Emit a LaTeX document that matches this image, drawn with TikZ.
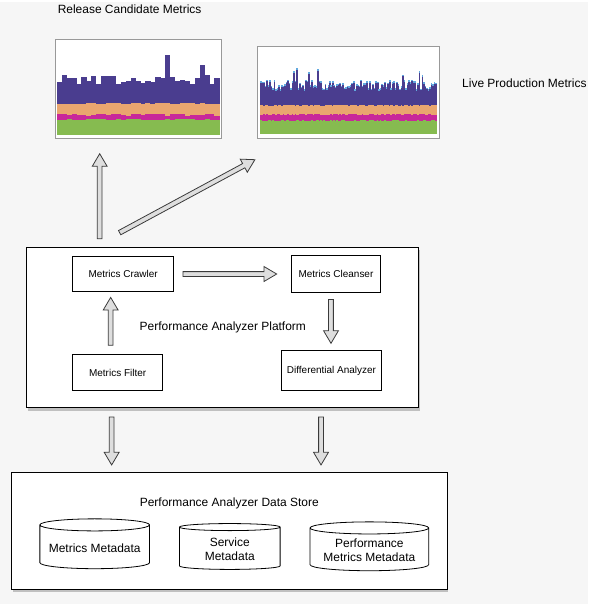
\documentclass[tikz,border=0pt]{standalone}
\usepackage{fontspec}
\setmainfont{Liberation Sans}
\usetikzlibrary{arrows.meta, positioning, shapes.geometric, calc, shadows}
\definecolor{pagray}{HTML}{F6F6F6}
\definecolor{chpurple}{HTML}{4A3D8F}
\definecolor{chorange}{HTML}{E9A66F}
\definecolor{chmagenta}{HTML}{C8289A}
\definecolor{chgreen}{HTML}{86BB50}
\definecolor{chblue}{HTML}{62A8DE}
\definecolor{arrowline}{HTML}{3A3A3A}

\begin{document}
\begin{tikzpicture}[
  x=0.75pt, y=-0.75pt,
  every node/.style={font=\fontsize{7.5}{9}\selectfont},
  comp/.style={rectangle, draw, line width=0.7pt, fill=white, align=center},
  group/.style={rectangle, draw, line width=0.7pt, fill=white, drop shadow={shadow xshift=0.6pt, shadow yshift=-2.2pt, opacity=0.45}},
  dbstore/.style={cylinder, shape border rotate=90, aspect=0.12, draw, line width=0.6pt, fill=white, align=center, font=\fontsize{9}{10.5}\selectfont},
  chart/.style={rectangle, draw=black!40, line width=0.5pt, fill=white},
  title/.style={font=\fontsize{9}{10.5}\selectfont},
  blockarrow/.style={draw=arrowline, fill=black!13, line width=0.6pt, line join=miter,
    to path={($(\tikztostart)!1.8pt!90:(\tikztotarget)$) -- ($(\tikztotarget)!9.67pt!-10.73:(\tikztostart)$)
      -- ($(\tikztotarget)!11.03pt!-30.52:(\tikztostart)$) -- (\tikztotarget)
      -- ($(\tikztotarget)!11.03pt!30.52:(\tikztostart)$) -- ($(\tikztotarget)!9.67pt!10.73:(\tikztostart)$)
      -- ($(\tikztostart)!1.8pt!-90:(\tikztotarget)$) -- cycle}},
]
\fill[pagray] (0,0) rectangle (590,604);

% metric charts
\node[chart, minimum width=125.25pt, minimum height=74.25pt] (rcchart) at (138.5,87.5) {};
\node[chart, minimum width=137.25pt, minimum height=69pt] (livechart) at (349.5,91) {};
\pgfmathsetseed{11}
\foreach \i in {0,...,32} {
  \pgfmathsetmacro\xa{57+4.94*\i}
  \pgfmathsetmacro\xb{\xa+5.2}
  \pgfmathsetmacro\ytop{\i==22 ? 53 : (\i==29 ? 63 : 73+11*rnd)}
  \pgfmathsetmacro\yo{101+2*rnd}
  \pgfmathsetmacro\ym{112+2.5*rnd}
  \pgfmathsetmacro\yg{117.5+1.5*rnd}
  \fill[chpurple] (\xa,\ytop) rectangle (\xb,\yo);
  \fill[chorange] (\xa,\yo) rectangle (\xb,\ym);
  \fill[chmagenta] (\xa,\ym) rectangle (\xb,\yg);
  \fill[chgreen] (\xa,\yg) rectangle (\xb,134);
}
\foreach \i in {0,...,117} {
  \pgfmathsetmacro\xa{261+1.5*\i}
  \pgfmathsetmacro\xb{\xa+1.7}
  \pgfmathsetmacro\ytop{rnd>0.93 ? 64+12*rnd : 78+10*rnd}
  \pgfmathsetmacro\yo{103+1.5*rnd}
  \pgfmathsetmacro\ym{112+2*rnd}
  \pgfmathsetmacro\yg{118.5+1.5*rnd}
  \fill[chblue] (\xa,\ytop) rectangle (\xb,\ytop+1.6);
  \fill[chpurple] (\xa,\ytop+1.6) rectangle (\xb,\yo);
  \fill[chorange] (\xa,\yo) rectangle (\xb,\ym);
  \fill[chmagenta] (\xa,\ym) rectangle (\xb,\yg);
  \fill[chgreen] (\xa,\yg) rectangle (\xb,133);
}
\node[title] (rclabel) at (130,7) {Release Candidate Metrics};
\node[title] (livelabel) at (526,82) {Live Production Metrics};

% platform
\node[group, minimum width=294.75pt, minimum height=120.75pt, font=\fontsize{9}{10.5}\selectfont] (plat) at (223.5,326.5) {Performance Analyzer Platform};
\node[comp, minimum width=75.75pt, minimum height=27pt] (crawler) at (123.5,273) {Metrics Crawler};
\node[comp, minimum width=67.5pt, minimum height=27.75pt] (cleanser) at (337,273) {Metrics Cleanser};
\node[comp, minimum width=67.5pt, minimum height=27pt] (filter) at (118,372) {Metrics Filter};
\node[comp, minimum width=75.75pt, minimum height=30pt] (diff) at (332.5,370) {Differential Analyzer};

% data store
\node[group, minimum width=327.75pt, minimum height=87.75pt] (store) at (230.5,530.5) {};
\node[title] (storetitle) at (230,503) {Performance Analyzer Data Store};
\node[dbstore, minimum width=82.5pt, minimum height=37.5pt] (mmeta) at (95,548) {Metrics Metadata};
\node[dbstore, minimum width=75.75pt, minimum height=34.5pt] (smeta) at (230.5,549) {Service\\Metadata};
\node[dbstore, minimum width=89.25pt, minimum height=36.75pt] (pmeta) at (370.5,550.5) {Performance\\Metrics Metadata};

% arrow ends
\coordinate (rcfrom) at ($(crawler.north)+(-23.5,-17)$);
\coordinate (rcto) at ($(rcchart.south)+(-38.5,15)$);
\coordinate (livefrom) at ($(crawler.north)+(-3.5,-23)$);
\coordinate (liveto) at ($(livechart.south west)+(-2,21)$);
\coordinate (crawlout) at ($(crawler.east)+(9,0)$);
\coordinate (cleanin) at ($(cleanser.west)+(-14,0)$);
\coordinate (filtout) at ($(filter.north)+(-7,-9)$);
\coordinate (crawlin) at ($(crawler.south)+(-12.5,5)$);
\coordinate (cleanout) at ($(cleanser.south)+(-5,6.5)$);
\coordinate (diffin) at ($(diff.north)+(-0.5,-7)$);
\coordinate (platoutA) at ($(plat.south)+(-111.5,9)$);
\coordinate (storeinA) at ($(store.north)+(-118.5,-7)$);
\coordinate (platoutB) at ($(plat.south)+(98.5,9)$);
\coordinate (storeinB) at ($(store.north)+(91.5,-7)$);

\draw[blockarrow] (rcfrom) to (rcto);
\draw[blockarrow] (livefrom) to (liveto);
\draw[blockarrow] (crawlout) to (cleanin);
\draw[blockarrow] (filtout) to (crawlin);
\draw[blockarrow] (cleanout) to (diffin);
\draw[blockarrow] (platoutA) to (storeinA);
\draw[blockarrow] (platoutB) to (storeinB);
\end{tikzpicture}
\end{document}
